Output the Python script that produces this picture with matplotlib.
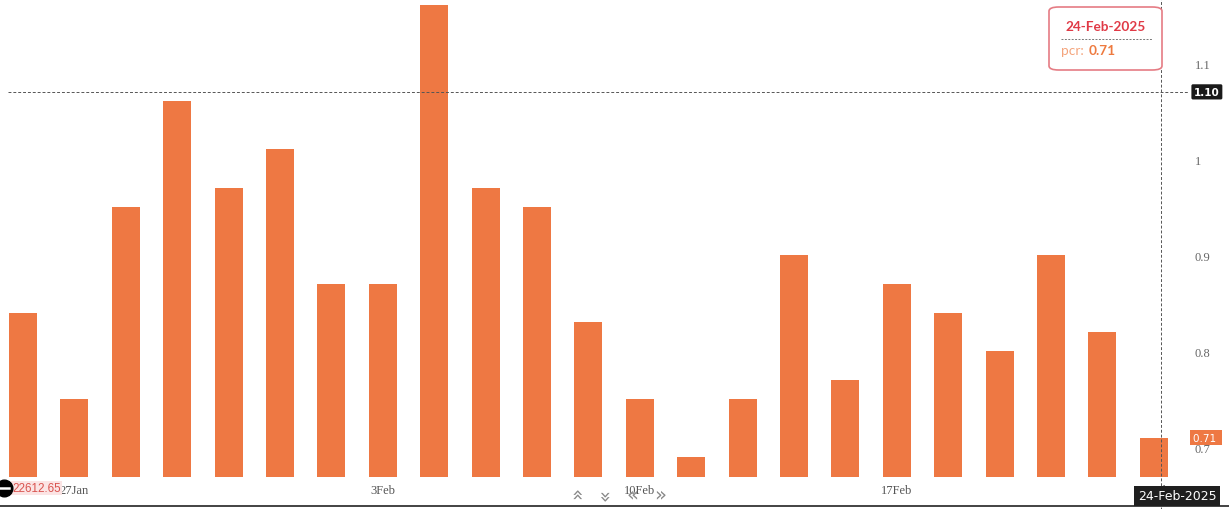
import matplotlib
matplotlib.use("Agg")
import matplotlib.pyplot as plt
from matplotlib.patches import FancyBboxPatch
from matplotlib.lines import Line2D
import matplotlib.transforms as mtransforms

# ---- data ----
dates = ["23-Jan", "24-Jan", "27-Jan", "28-Jan", "29-Jan", "30-Jan", "31-Jan",
         "3-Feb", "4-Feb", "5-Feb", "6-Feb", "7-Feb",
         "10-Feb", "11-Feb", "12-Feb", "13-Feb", "14-Feb",
         "17-Feb", "18-Feb", "19-Feb", "20-Feb", "21-Feb", "24-Feb"]
pcr = [0.84, 0.75, 0.95, 1.06, 0.97, 1.01, 0.87, 0.87, 1.16, 0.97, 0.95,
       0.83, 0.75, 0.69, 0.75, 0.90, 0.77, 0.87, 0.84, 0.80, 0.90, 0.82, 0.71]
tick_positions = [1, 7, 12, 17, 22]
tick_texts = ["27Jan", "3Feb", "10Feb", "17Feb", "24Feb"]
yticks = [0.7, 0.8, 0.9, 1.0, 1.1]
ytick_labels = ["0.7", "0.8", "0.9", "1", "1.1"]
ymin, ymax = 0.669, 1.1667
crosshair_y = 1.07
crosshair_label = "1.10"
tooltip_date = "24-Feb-2025"
tooltip_val = "0.71"
left_price = "22612.65"

W, H = 1229, 510
fig = plt.figure(figsize=(W / 100, H / 100), dpi=100)
fig.patch.set_facecolor("white")

ax_right = 1188
ax_bottom = 478
pitch = 51.4
first_c = 23
ax = fig.add_axes([0, 1 - ax_bottom / H, ax_right / W, ax_bottom / H])
ax.set_facecolor("white")

n = len(pcr)
x = list(range(n))
bar_color = "#EE7843"
ax.bar(x, [v - ymin for v in pcr], bottom=ymin, width=28 / pitch,
       color=bar_color, zorder=2)

ax.set_xlim(-first_c / pitch, (ax_right - first_c) / pitch)
ax.set_ylim(ymin, ymax)
for s in ax.spines.values():
    s.set_visible(False)

ax.yaxis.tick_right()
ax.set_yticks(yticks)
ax.set_yticklabels(ytick_labels)
ax.tick_params(axis="y", length=0, pad=5, labelsize=9, labelcolor="#666666")
for t in ax.get_yticklabels():
    t.set_fontfamily("Liberation Serif")
    t.set_horizontalalignment("left")

ax.set_xticks(tick_positions)
ax.set_xticklabels(tick_texts)
ax.tick_params(axis="x", length=0, pad=5, labelsize=9, labelcolor="#555555")
for t in ax.get_xticklabels():
    t.set_fontfamily("Liberation Serif")

# crosshair lines
ax.axhline(crosshair_y, xmin=8 / ax_right, xmax=1.0, color="#555555",
           lw=0.7, ls=(0, (3, 2)), zorder=3)
cx = (n - 1) + 0.14
ax.plot([cx, cx], [ymin - 0.05, ymax + 0.01], color="#555555", lw=0.7,
        ls=(0, (3, 2)), zorder=3, clip_on=False)

trans = mtransforms.blended_transform_factory(ax.transAxes, ax.transData)
ax.text(1 + 6 / ax_right, crosshair_y, crosshair_label, transform=trans,
        ha="left", va="center", fontsize=7.5, color="white",
        fontweight="bold", family="DejaVu Sans", zorder=6, clip_on=False,
        bbox=dict(boxstyle="round,pad=0.25,rounding_size=0.15",
                  fc="#1a1a1a", ec="none"))
ax.text(1 + 5 / ax_right, pcr[-1], "0.71 ", transform=trans,
        ha="left", va="center", fontsize=7.5, color="white",
        family="DejaVu Sans", zorder=6, clip_on=False,
        bbox=dict(boxstyle="square,pad=0.25", fc=bar_color, ec="none"))

# tooltip
tip = FancyBboxPatch((1049 / W, 1 - 71 / H), 113 / W, 63 / H,
                     boxstyle="round,pad=0,rounding_size=0.008",
                     transform=fig.transFigure, fc="white", ec="#E57C84",
                     lw=1.2, zorder=10)
fig.patches.append(tip)
fig.text(1106 / W, 1 - 27 / H, tooltip_date, ha="center", va="center",
         fontsize=9.8, fontweight="bold", color="#E03A46", family="Lato",
         zorder=11)
fig.lines.append(Line2D([1061 / W, 1152 / W], [1 - 40 / H, 1 - 40 / H],
                        transform=fig.transFigure, color="#777777", lw=0.7,
                        ls=(0, (2, 1.5)), zorder=11))
fig.text(1061 / W, 1 - 51 / H, "pcr:", ha="left", va="center",
         fontsize=9.8, color="#F4A47C", family="Lato", zorder=11)
fig.text(1089 / W, 1 - 51 / H, tooltip_val, ha="left", va="center",
         fontsize=9.8, fontweight="bold", color="#EE7A3F", family="Lato",
         zorder=11)

# bottom date badge
fig.text(1177 / W, 1 - 497 / H, tooltip_date, ha="center", va="center",
         fontsize=9, color="white", family="DejaVu Sans", zorder=11,
         bbox=dict(boxstyle="square,pad=0.3", fc="#1f1f1f", ec="none"))

# bottom-left price marker
fig.text(12 / W, 1 - 489 / H, left_price, ha="left", va="center",
         fontsize=8.4, color="#D9534F", family="Liberation Sans", zorder=11,
         bbox=dict(boxstyle="square,pad=0.12", fc="#FBE4E4", ec="none"))
fig.lines.append(Line2D([4 / W], [1 - 489 / H], transform=fig.transFigure,
                        marker="o", ms=12, mfc="black", mec="black",
                        ls="none", zorder=12))
fig.lines.append(Line2D([-1 / W, 9 / W], [1 - 489 / H, 1 - 489 / H],
                        transform=fig.transFigure, color="white", lw=1.8,
                        zorder=13))

# navigation chevrons
for px, rot in [(576, -90), (604, 90), (632, 0)]:
    fig.text(px / W, 1 - 495 / H, "«", ha="center", va="center",
             fontsize=14, color="#888888", rotation=rot, zorder=11)
fig.text(660 / W, 1 - 495 / H, "»", ha="center", va="center",
         fontsize=14, color="#888888", zorder=11)

# bottom black line
fig.lines.append(Line2D([0, 1], [1 - 507 / H, 1 - 507 / H],
                        transform=fig.transFigure, color="#222222", lw=1.2))

fig.savefig("out.png", dpi=100, facecolor="white")
